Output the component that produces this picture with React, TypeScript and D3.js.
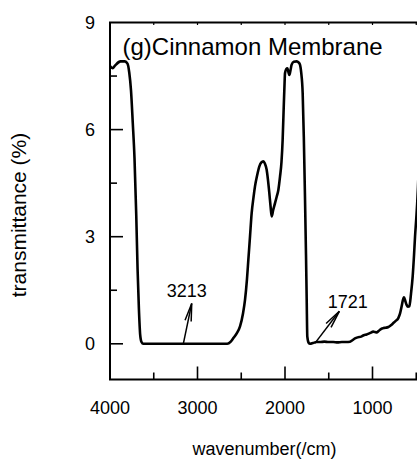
import React from "react";
import * as d3 from "d3";

const wavenumbers = [
  4000, 3970, 3940, 3880, 3830, 3800, 3780, 3760, 3740, 3720, 3700, 3685, 3670, 3655, 3640, 3620,
  3200, 2800, 2660, 2620, 2590, 2550, 2514, 2480, 2457, 2435, 2419, 2400, 2381, 2360, 2343, 2320,
  2293, 2270, 2248, 2230, 2210, 2195, 2179, 2165, 2152, 2135, 2114, 2095, 2076, 2057, 2040, 2027,
  2015, 2005, 2000, 1985, 1973, 1960, 1950, 1938, 1924, 1900, 1867, 1845, 1829, 1815, 1798, 1785,
  1771, 1760, 1752, 1745, 1730, 1714, 1680, 1640, 1600, 1550, 1500, 1448, 1400, 1350, 1300, 1257,
  1230, 1200, 1170, 1130, 1100, 1067, 1030, 990, 970, 952, 930, 900, 876, 850, 819, 790, 762, 735,
  705, 685, 667, 655, 640, 625, 610, 595, 579, 560, 541, 525, 514, 500, 490, 480, 460,
];
const transmittance = [
  7.78, 7.72, 7.8, 7.91, 7.91, 7.85, 7.6, 7.1, 6.2, 5.2, 3.6, 2.1, 1.0, 0.25, 0.05, 0.0,
  0.0, 0.0, 0.0, 0.06, 0.16, 0.3, 0.49, 0.85, 1.23, 1.8, 2.35, 3.0, 3.66, 4.1, 4.41, 4.7,
  4.97, 5.08, 5.11, 5.05, 4.88, 4.6, 4.22, 3.85, 3.57, 3.75, 3.94, 4.12, 4.31, 4.68, 5.1, 5.71,
  6.6, 7.3, 7.58, 7.7, 7.72, 7.6, 7.53, 7.65, 7.82, 7.9, 7.91, 7.88, 7.82, 7.6, 7.02, 5.8,
  4.03, 2.5, 1.23, 0.2, 0.03, 0.0, 0.02, 0.05, 0.05, 0.06, 0.05, 0.05, 0.04, 0.05, 0.05, 0.06,
  0.1, 0.15, 0.18, 0.2, 0.24, 0.26, 0.3, 0.34, 0.33, 0.32, 0.36, 0.42, 0.44, 0.45, 0.47, 0.52, 0.58, 0.64,
  0.72, 0.85, 1.05, 1.2, 1.3, 1.2, 1.09, 1.04, 1.05, 1.4, 1.88, 2.5, 3.0, 3.5, 3.9, 4.4, 5.6,
];

const xMajorTicks = [4000, 3000, 2000, 1000];
const xMinorTicks = [3500, 2500, 1500, 500];
const yMajorTicks = [0, 3, 6, 9];
const yMinorTicks = [1.5, 4.5, 7.5];

const title = "(g)Cinnamon Membrane";
const xLabel = "wavenumber(/cm)";
const yLabel = "transmittance (%)";

// annotations: label, arrow tail (wavenumber, value), arrow tip (wavenumber, value)
const annLabels = ["3213", "1721"];
const annTail = [
  [3162, 0.0],
  [1657, 0.02],
];
const annTip = [
  [3066, 1.13],
  [1379, 0.91],
];

const W = 417;
const H = 459;
const left = 110;
const right = 425;
const top = 22.5;
const bottom = 379.5;
const FONT = "Arial, 'Liberation Sans', Helvetica, sans-serif";

export default function App() {
  const x = d3.scaleLinear().domain([4000, 400]).range([left, right]);
  const y = d3.scaleLinear().domain([-1, 9]).range([bottom, top]);

  const pts: [number, number][] = wavenumbers.map((w, i) => [w, transmittance[i]]);
  const line = d3
    .line<[number, number]>()
    .x((d) => x(d[0]))
    .y((d) => y(d[1]))
    .curve(d3.curveMonotoneX);

  const arrowHead = (tx: number, ty: number, sx: number, sy: number) => {
    const ang = Math.atan2(sy - ty, sx - tx);
    const len = 18;
    const a = (10 * Math.PI) / 180;
    const p1 = [tx + len * Math.cos(ang + a), ty + len * Math.sin(ang + a)];
    const p2 = [tx + len * Math.cos(ang - a), ty + len * Math.sin(ang - a)];
    return `M${p1[0]},${p1[1]}L${tx},${ty}L${p2[0]},${p2[1]}`;
  };

  return (
    <svg
      width={W}
      height={H}
      style={{ position: "fixed", left: 0, top: 0, background: "#fff" }}
      fontFamily={FONT}
    >
      <rect x={0} y={0} width={W} height={H} fill="#fff" />
      <defs>
        <clipPath id="plotclip">
          <rect x={left} y={top} width={right - left} height={bottom - top} />
        </clipPath>
      </defs>

      {/* frame */}
      <path
        d={`M${right},${top}L${left},${top}L${left},${bottom}L${right},${bottom}`}
        fill="none"
        stroke="#000"
        strokeWidth={2}
      />

      {/* x ticks */}
      {xMajorTicks.map((t) => (
        <g key={"xm" + t}>
          <line x1={x(t)} x2={x(t)} y1={bottom} y2={bottom - 13} stroke="#000" strokeWidth={1.6} />
          <line x1={x(t)} x2={x(t)} y1={top} y2={top + 2.5} stroke="#000" strokeWidth={1.2} />
          <text x={x(t)} y={413.5} textAnchor="middle" fontSize={18} fill="#000">
            {t}
          </text>
        </g>
      ))}
      {xMinorTicks.map((t) => (
        <g key={"xn" + t}>
          <line x1={x(t)} x2={x(t)} y1={bottom} y2={bottom - 7} stroke="#000" strokeWidth={1.6} />
          <line x1={x(t)} x2={x(t)} y1={top} y2={top + 2.5} stroke="#000" strokeWidth={1.2} />
        </g>
      ))}

      {/* y ticks */}
      {yMajorTicks.map((t) => (
        <g key={"ym" + t}>
          {t < 9 && (
            <line x1={left} x2={left + 13} y1={y(t)} y2={y(t)} stroke="#000" strokeWidth={1.6} />
          )}
          <text x={95} y={y(t) + 6.5} textAnchor="end" fontSize={18} fill="#000">
            {t}
          </text>
        </g>
      ))}
      {yMinorTicks.map((t) => (
        <line key={"yn" + t} x1={left} x2={left + 7} y1={y(t)} y2={y(t)} stroke="#000" strokeWidth={1.6} />
      ))}

      {/* curve */}
      <path
        d={line(pts) || ""}
        fill="none"
        stroke="#000"
        strokeWidth={2.6}
        strokeLinejoin="round"
        clipPath="url(#plotclip)"
      />

      {/* annotations */}
      {annLabels.map((lab, i) => {
        const sx = x(annTail[i][0]);
        const sy = y(annTail[i][1]);
        const tx = x(annTip[i][0]);
        const ty = y(annTip[i][1]);
        return (
          <g key={"ann" + i}>
            <line x1={sx} y1={sy} x2={tx} y2={ty} stroke="#000" strokeWidth={1.5} />
            <path d={arrowHead(tx, ty, sx, sy)} fill="none" stroke="#000" strokeWidth={1.5} />
            <text x={i === 0 ? tx - 5 : tx + 8.5} y={i === 0 ? ty - 6 : ty - 3.5} textAnchor="middle" fontSize={18} fill="#000">
              {lab}
            </text>
          </g>
        );
      })}

      {/* title */}
      <text x={122.5} y={54.5} fontSize={24} fill="#000">
        {title}
      </text>

      {/* axis labels */}
      <text x={264.5} y={454.5} textAnchor="middle" fontSize={18} fill="#000">
        {xLabel}
      </text>
      <text
        transform={`translate(25.5,215) rotate(-90)`}
        textAnchor="middle"
        fontSize={21}
        fill="#000"
      >
        {yLabel}
      </text>
    </svg>
  );
}
